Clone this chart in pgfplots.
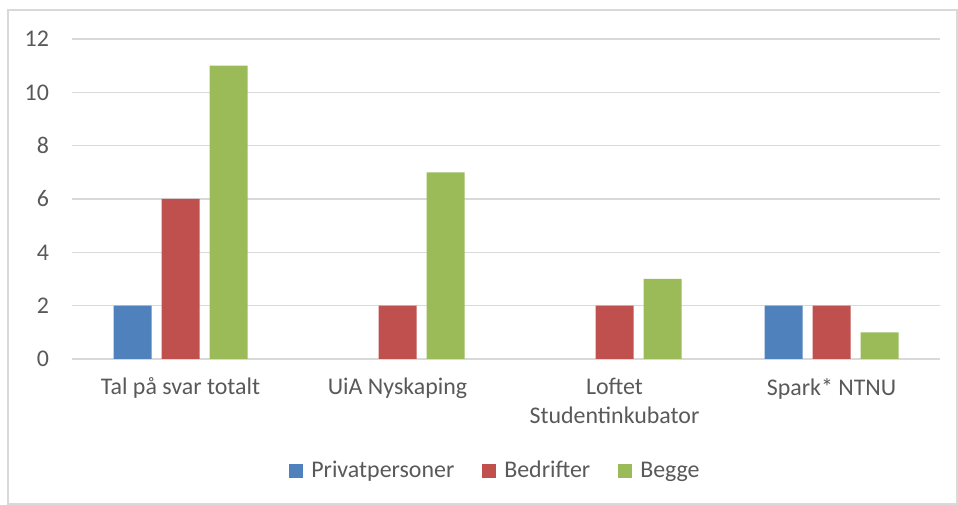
\documentclass[border=0pt]{standalone}
\usepackage{pgfplots}
\pgfplotsset{compat=1.18}
\usetikzlibrary{calc}
\usepackage{fontspec}
\setmainfont{Carlito}
\definecolor{priv}{HTML}{4F81BD}
\definecolor{bedr}{HTML}{C0504D}
\definecolor{begge}{HTML}{9BBB59}
\definecolor{txt}{HTML}{595959}
\definecolor{gridc}{HTML}{D9D9D9}
\begin{document}
\begin{tikzpicture}[x=1bp,y=1bp]
\begin{axis}[
    name=ax,
    scale only axis,
    width=434bp, height=160bp,
    ybar=5bp, bar width=19bp,
    xmin=-0.5, xmax=3.5,
    ymin=0, ymax=12, ytick={0,2,...,12},
    xtick={0,1,2,3},
    xticklabels={Tal på svar totalt, UiA Nyskaping, Loftet\\Studentinkubator, Spark* NTNU},
    xticklabel style={align=center, font=\fontsize{12}{14.5}\selectfont, text=txt, yshift=-6bp},
    yticklabel style={font=\fontsize{12}{14}\selectfont, text=txt, xshift=-8bp},
    /pgf/number format/assume math mode=true,
    axis line style={draw=none},
    major tick length=0pt,
    ymajorgrids, grid style={gridc, line width=0.8bp},
    legend style={at={(0.489,-0.35)}, anchor=center, draw=none, legend columns=3,
        font=\fontsize{12}{14}\selectfont, text=txt,
        /tikz/every odd column/.append style={column sep=2bp},
        /tikz/every even column/.append style={column sep=12bp}},
    legend image code/.code={\fill[#1] (0bp,-3.5bp) rectangle (7bp,3.5bp);},
]
\addplot[fill=priv, draw=none] coordinates {(0,2) (3,2)};
\addlegendentry{Privatpersoner}
\addplot[fill=bedr, draw=none] coordinates {(0,6) (1,2) (2,2) (3,2)};
\addlegendentry{Bedrifter}
\addplot[fill=begge, draw=none] coordinates {(0,11) (1,7) (2,3) (3,1)};
\addlegendentry{Begge}
\end{axis}
\path (ax.south west) ++(-36bp,-73bp) coordinate (a)
      (ax.north east) ++(9bp,19.5bp) coordinate (b);
\path (a) rectangle (b);
\draw[gridc, line width=1bp] ($(a)+(4bp,0.5bp)$) rectangle ($(b)+(-0.5bp,-5bp)$);
\end{tikzpicture}
\end{document}
